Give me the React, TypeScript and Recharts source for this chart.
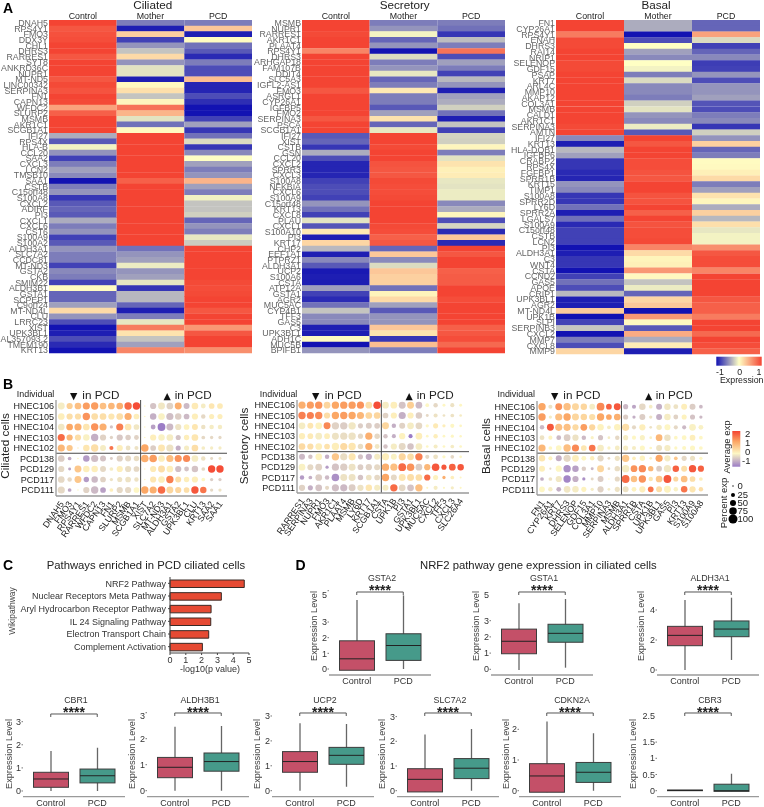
import {
  Bar,
  BarChart,
  Cell,
  ComposedChart,
  ReferenceLine,
  Scatter,
  ScatterChart,
  XAxis,
  YAxis,
  ZAxis,
} from 'recharts'

const SANS = '"Liberation Sans", Arial, sans-serif'

const conditions = ['Control', 'Mother', 'PCD']
const individuals = ['HNEC106', 'HNEC105', 'HNEC104', 'HNEC103', 'HNEC102', 'PCD138', 'PCD129', 'PCD117', 'PCD111']

// Panel A - scaled expression, one [control, mother, pcd] row per gene
const ciliatedGenes = ['DNAH5', 'RPS4Y1', 'FMO3', 'DDX3Y', 'CHL1', 'DHRS3', 'RARRES1', 'SYT8', 'ANKRD36C', 'NUPR1', 'MT-ND5', 'LINC00342', 'SERPINA3', 'FN1', 'CAPN13', 'WFDC2', 'SLURP2', 'MSMB', 'AKR1C1', 'SCGB1A1', 'IFI27', 'RPS4X', 'HLA-B', 'CCL20', 'SAA2', 'CXCL3', 'LCN2', 'TMSB10', 'SAA1', 'CSTB', 'C15orf48', 'S100A8', 'CXCL2', 'ADIRF', 'PI3', 'CXCL1', 'CXCL6', 'CST6', 'S100A9', 'S100A2', 'ALDH3A1', 'SLC7A2', 'CCDC81', 'MT-ND3', 'GSTA2', 'CKB', 'SMIM22', 'ALDH3B1', 'GSTA1', 'SCPEP1', 'C9orf24', 'MT-ND4L', 'CLU', 'LRRC23', 'XIST', 'UPK3BL1', 'AL357093.2', 'TMEM190', 'KRT13']
const ciliatedZ = [
  [1, -0.55, -0.55], [0.9, -0.95, 0.3], [0.93, 0.25, -0.95], [0.95, -0.8, 0.02], [1, -0.45, -0.6], [1, -0.25, -0.7], [0.9, 0.2, -0.9], [1, -0.45, -0.55], [1, -0.12, -0.75], [1, -0.12, -0.75],
  [0.9, -0.95, 0.35], [0.97, 0.03, -0.92], [0.92, 0.17, -0.92], [1, -0.25, -0.75], [0.97, 0.05, -0.88], [0.5, 0.75, -1], [0.85, 0.4, -1], [1, -0.12, -0.8], [1, -0.6, -0.4], [1, 0.03, -0.85],
  [-0.35, 1, -0.6], [-0.7, 1, -0.15], [-0.05, 1, -0.85], [-0.45, 1, -0.5], [-0.8, 1, 0], [-0.55, 1, -0.4], [-0.4, 1, -0.55], [-0.5, 1, -0.45], [-1, 0.85, 0.4], [-0.55, 1, -0.4],
  [-0.45, 1, -0.55], [-0.85, 1, -0.06], [-0.7, 1, -0.25], [-0.65, 1, -0.25], [-0.7, 1, -0.2], [-0.35, 1, -0.65], [-0.55, 1, -0.45], [-0.45, 1, -0.55], [-0.8, 1, -0.1], [-0.7, 1, -0.22],
  [-0.45, -0.6, 1], [-0.55, -0.45, 1], [-0.55, -0.4, 1], [-0.8, -0.08, 1], [-0.5, -0.45, 1], [-0.55, -0.4, 1], [-0.8, -0.1, 0.97], [0.02, -0.85, 0.95], [-0.65, -0.3, 0.97], [-0.65, -0.3, 1],
  [-0.4, -0.65, 1], [0.2, -0.95, 0.9], [-0.45, -0.55, 1], [-0.75, -0.1, 1], [-1, 0.7, 0.55], [-0.95, 0.15, 0.9], [-0.75, -0.25, 1], [-0.9, -0.4, 1], [-1, 0.65, 0.6],
]

const secretoryGenes = ['MSMB', 'NUPR1', 'RARRES1', 'AKR1C1', 'PLAAT4', 'RPS4Y1', 'DHRS3', 'ARHGAP18', 'FAM107B', 'DDIT4', 'SLC5A3', 'IGFL2-AS1', 'FMO3', 'ASRGL1', 'CYP26A1', 'IGFBP5', 'FMO2', 'SERPINA3', 'PSCA', 'SCGB1A1', 'IFI27', 'XIST', 'CSTB', 'GSN', 'CCL20', 'CXCL2', 'SPRR3', 'CXCL3', 'S100A8', 'NFKBIA', 'CXCL6', 'S100A9', 'C15orf48', 'KRT13', 'CXCL8', 'PLAU', 'CXCL1', 'S100A10', 'PI3', 'KRT17', 'CHP2', 'EEF1A1', 'PTPRZ1', 'ALDH3A1', 'UCP2', 'S100A6', 'CSTA', 'ATP12A', 'GSTA1', 'AGR2', 'MUC5AC', 'CYP4B1', 'TFF3', 'GAS5', 'C3', 'UPK3BL1', 'ADH1C', 'MUC5B', 'BPIFB1']
const secretoryZ = [
  [1, -0.55, -0.55], [1, -0.45, -0.6], [0.97, -0.05, -0.85], [1, -0.65, -0.28], [1, -0.45, -0.55], [0.65, -1, 0.75], [1, -0.15, -0.75], [1, -0.55, -0.4], [1, -0.45, -0.55], [1, -0.1, -0.8],
  [1, -0.65, -0.3], [1, -0.55, -0.45], [0.9, 0.12, -0.95], [1, -0.55, -0.4], [1, -0.55, -0.35], [1, -0.7, -0.2], [1, -0.4, -0.6], [0.9, 0.15, -0.95], [1, -0.65, -0.25], [1, -0.1, -0.8],
  [-0.7, 1, -0.18], [-0.65, 1, -0.2], [-0.85, 0.97, 0.05], [-0.35, 1, -0.55], [-0.75, 1, -0.12], [-0.92, 0.92, 0.15], [-0.92, 0.9, 0.08], [-0.92, 0.9, 0.1], [-0.8, 0.97, -0.1], [-0.75, 0.95, -0.12],
  [-0.75, 0.95, -0.08], [-0.8, 0.97, -0.08], [-0.45, 1, -0.5], [-0.6, 1, -0.35], [-0.8, 1, 0.05], [-0.12, 1, -0.75], [-0.72, 0.97, -0.18], [0.12, 0.95, -0.9], [-0.95, 0.85, 0.3], [0.22, 0.9, -0.9],
  [-0.3, -0.65, 1], [-0.95, 0.3, 0.9], [-0.5, -0.5, 1], [-0.7, -0.15, 1], [-0.97, 0.3, 0.85], [-0.95, 0.25, 0.87], [-0.95, 0.25, 0.87], [-0.4, -0.6, 1], [-0.8, 0.06, 1], [-0.9, 0.2, 0.95],
  [-0.6, -0.4, 1], [-0.25, -0.7, 1], [-0.5, -0.45, 1], [-0.5, -0.45, 1], [-0.95, 0.3, 0.85], [-0.95, 0.15, 0.9], [0.02, -0.85, 0.95], [-1, 0.35, 0.8], [-0.45, -0.55, 1],
]

const basalGenes = ['FN1', 'CYP26A1', 'RPS4Y1', 'ENAH', 'DHRS3', 'RAI14', 'NRIP1', 'SELENOP', 'GDF15', 'PSAP', 'KRT7', 'ARL4C', 'MMP10', 'AKAP12', 'COL3A1', 'MSMB', 'CALD1', 'AKR1C1', 'SERPINA3', 'AMTN', 'IFI27', 'KRT13', 'HLA-DQB1', 'IGFBP6', 'CRABP2', 'RPS4X', 'FGFBP1', 'SPRR1B', 'KRT15', 'TIMP1', 'S100A8', 'SPRR2D', 'LY6D', 'SPRR2A', 'LGALS7', 'S100A9', 'C15orf48', 'CSTB', 'LCN2', 'PI3', 'ALDH3A1', 'C3', 'WNT4', 'CSTA', 'CCND2', 'GAS5', 'APOE', 'CRIP1', 'UPK3BL1', 'AGR2', 'MT-ND4L', 'UPK1B', 'SLPI', 'SERPINB3', 'CXCL2', 'MMP7', 'CXCL8', 'MMP9']
const basalZ = [
  [1, -0.35, -0.65], [1, -0.35, -0.65], [0.7, -1, 0.5], [0.97, -0.75, -0.15], [0.97, 0, -0.8], [1, -0.4, -0.65], [1, -0.5, -0.5], [0.97, 0, -0.82], [0.97, -0.05, -0.8], [1, -0.55, -0.45],
  [1, -0.15, -0.75], [1, -0.5, -0.45], [1, -0.5, -0.45], [1, -0.55, -0.4], [1, -0.2, -0.72], [1, -0.12, -0.75], [1, -0.45, -0.55], [1, -0.5, -0.5], [0.97, -0.08, -0.85], [1, -0.7, -0.2],
  [-0.5, 1, -0.45], [-0.95, 0.9, 0.25], [-0.3, 1, -0.65], [-0.4, 1, -0.55], [-0.85, 0.95, 0.02], [-0.85, 0.95, 0.03], [-0.9, 0.92, 0.08], [-0.92, 0.9, 0.2], [-0.45, 1, -0.55], [-0.5, 1, -0.4],
  [-0.85, 0.92, 0.15], [-0.85, 0.92, 0.05], [-0.6, 1, -0.35], [-0.95, 0.85, 0.25], [-0.6, 1, -0.3], [-0.9, 0.92, 0.17], [-0.8, 0.95, -0.1], [-0.8, 0.95, -0.05], [-0.8, 0.97, -0.05], [-1, 0.65, 0.6],
  [-0.95, 0.2, 0.9], [-0.85, 0.06, 0.95], [-0.85, 0.08, 0.95], [-1, 0.55, 0.65], [-0.8, 0.03, 1], [-0.6, -0.25, 1], [-0.75, -0.08, 1], [-0.3, -0.65, 1], [-0.95, 0.22, 0.9], [-0.95, 0.3, 0.85],
  [0.28, -1, 0.85], [-1, 0.55, 0.7], [-0.8, 0.03, 1], [-0.25, -0.7, 1], [-1, 0.45, 0.8], [-0.55, -0.35, 1], [-0.75, 0.1, 0.95], [0.22, -0.95, 0.85],
]

// Panel B - average expression and percent expressed, one row per individual
const ciliatedDotGenes = ['DNAH5', 'FMO3', 'RPS4Y1', 'RARRES1', 'WFDC2', 'CAPN13', 'FN1', 'SLURP2', 'MSMB', 'SCGB1A1', 'XIST', 'SLC7A2', 'MT-ND3', 'ALDH3A1', 'GSTA2', 'UPK3BL1', 'CLU', 'KRT13', 'SAA2', 'SAA1']
const ciliatedAvg = [
  [-0.1, 0.5, 0.7, 1.1, 1.1, 0.7, 0.8, 0.9, 1.6, 1.9, 0, -0.5, -0.15, -0.35, 0.9, -0.6, 0.15, -0.1, 0.2, 0.15],
  [0.1, 0.3, 0.3, 1.2, 0.3, 0.3, 0.2, 0.3, 0.9, 0.1, 0, -0.7, -0.05, -0.55, -0.4, -0.6, 0.1, -0.3, 0.1, 0.1],
  [-0.15, 1, 0.9, 0.2, 1.2, 0.9, -0.5, 1.4, 0.2, -0.15, 0, -0.85, -1.2, -0.6, -0.2, 0.05, 0.2, -0.2, -0.1, -0.1],
  [1.6, 0.8, 0.3, -0.05, -0.7, -0.35, -0.35, -0.45, -0.4, -0.35, 0, 0.1, -0.05, -0.1, -0.5, 0.1, 0.2, -0.3, -0.3, -0.3],
  [0.8, 0.6, 0.1, 0.2, 0.3, -0.1, 1.5, 0.1, -0.2, -0.2, 1, -0.4, 0.2, -0.2, -0.7, -0.1, 0.3, -0.1, -0.1, -0.1],
  [-0.4, -0.75, 0.05, -0.9, -0.55, -0.5, -0.4, -0.35, -0.3, -0.25, 0.9, 1.1, 0.1, 0.7, 1.2, 1.3, -0.1, -0.2, -0.3, -0.2],
  [-0.3, -0.8, 0.6, 0.1, 0.1, -0.3, -0.1, 0.1, -0.25, -0.3, 0, 0.15, 0.3, 0.1, -0.55, -0.5, -0.5, -0.3, 1.9, 1.9],
  [-0.3, -0.3, 0.6, -0.9, -0.6, -0.35, -0.2, -0.2, -0.2, -0.2, 0, 0.2, 0.1, 1.4, 0.3, 0.1, 0.1, 0, -0.4, -0.4],
  [-0.3, -0.8, 0, -0.35, -0.6, -0.85, 0.1, -0.3, -0.3, 0, 1, 0.9, 1.6, 0.4, 0.4, 0.3, 1.8, 1.5, -0.3, -0.2],
]
const ciliatedPct = [
  [75, 60, 70, 80, 85, 70, 70, 70, 85, 85, 2, 60, 75, 70, 75, 55, 70, 35, 50, 50],
  [70, 60, 60, 85, 70, 70, 60, 70, 80, 50, 2, 65, 70, 80, 65, 50, 60, 30, 40, 40],
  [70, 70, 80, 70, 85, 80, 15, 80, 70, 50, 2, 35, 95, 75, 60, 50, 55, 30, 30, 30],
  [80, 60, 60, 65, 85, 60, 15, 60, 45, 35, 2, 60, 65, 70, 40, 45, 70, 20, 15, 15],
  [80, 60, 2, 65, 85, 55, 25, 60, 35, 25, 90, 50, 75, 80, 40, 40, 70, 20, 15, 15],
  [70, 20, 2, 65, 80, 55, 12, 60, 55, 45, 90, 90, 70, 80, 80, 80, 70, 30, 12, 12],
  [60, 12, 75, 65, 65, 55, 20, 60, 60, 50, 2, 60, 75, 70, 60, 35, 65, 20, 85, 85],
  [70, 30, 75, 45, 65, 50, 15, 40, 50, 30, 2, 60, 70, 85, 55, 45, 60, 20, 15, 15],
  [80, 20, 2, 60, 85, 50, 20, 60, 60, 50, 85, 80, 90, 75, 60, 50, 85, 65, 15, 15],
]

const secretoryDotGenes = ['RARRES1', 'SERPINA3', 'NUPR1', 'FMO3', 'AKR1C1', 'PLAAT4', 'MSMB', 'LY6D', 'KRT17', 'SCGB1A1', 'CSTA', 'UPK1B', 'PI3', 'GSTA1', 'UPK3BL1', 'MUC5AC', 'CXCL2', 'TFF3', 'CXCL3', 'SLC26A4']
const secretoryAvg = [
  [0.9, 1.1, 1.2, 0.4, 1, 1.1, 1.1, 1.2, 0.3, 1.9, -0.1, 0.1, -0.5, 0.5, -0.6, 0, -0.3, 0, -0.2, 0],
  [1.4, 1.4, 1.3, 0.3, 1, 1.1, 1, 0.8, 0.4, 0.4, -0.35, 0.1, -0.7, 0.1, -0.4, -0.3, -0.2, -0.2, -0.2, -0.1],
  [-0.1, 0.2, 0.05, 1.3, -0.35, -0.4, -0.15, -0.4, -0.4, -0.4, 0.4, -0.7, -0.35, -0.1, -0.3, 0, 0.15, 0.1, 0, 0],
  [0.1, 0.15, -0.1, 0.1, -0.2, -0.25, -0.2, -0.3, 0.9, -0.3, -0.5, -0.7, 0.05, -1.2, 0.1, 0, 0.1, 0, 0, 0],
  [0.35, 0.3, 0.1, 0.25, 0.1, 0.35, 0.2, -0.25, 0.9, -0.15, -0.5, -0.1, -0.3, -0.5, -0.1, 0, -0.1, 0, -0.1, 0],
  [-0.6, -0.5, 0.05, -0.7, 0.6, -0.25, 0.2, -0.5, -0.7, -0.1, 0.1, -0.05, 0.4, 0.3, 1.4, -0.3, -0.2, 0, -0.3, 0],
  [-0.05, -0.3, -0.35, -0.9, -0.5, -0.4, -0.2, -0.4, -0.35, -0.3, 0.9, 0.7, 1.6, 1.2, -0.4, 0.8, 1.8, 1.8, 1.7, 1.8],
  [-0.9, -0.7, -0.4, -0.6, -1, -0.2, -0.2, -0.5, -0.2, -0.3, 1, -0.3, 0.2, 0.3, 0.3, 1.6, 0.05, 0.9, 0.1, 0],
  [-0.35, -0.7, -0.5, -0.3, -0.55, -0.6, -0.4, -0.2, 0.2, -0.1, -0.1, 1.6, -0.3, -0.5, 0.7, 0, -0.1, 0, -0.1, 0],
]
const secretoryPct = [
  [80, 80, 85, 70, 85, 85, 85, 80, 70, 90, 70, 70, 75, 75, 70, 20, 30, 12, 25, 12],
  [85, 80, 85, 60, 85, 85, 85, 80, 70, 70, 50, 60, 80, 60, 65, 12, 25, 10, 20, 10],
  [70, 55, 70, 75, 85, 85, 85, 40, 55, 50, 75, 30, 55, 70, 70, 15, 40, 15, 25, 10],
  [60, 50, 70, 50, 75, 80, 85, 40, 80, 45, 30, 25, 60, 25, 70, 10, 30, 10, 15, 8],
  [70, 60, 70, 50, 85, 80, 85, 45, 80, 35, 30, 60, 75, 65, 70, 10, 25, 10, 20, 10],
  [55, 30, 70, 30, 85, 80, 80, 40, 60, 55, 80, 55, 80, 70, 85, 25, 35, 15, 20, 10],
  [70, 55, 70, 15, 80, 80, 75, 50, 60, 55, 85, 80, 95, 90, 70, 60, 90, 40, 70, 65],
  [30, 20, 70, 30, 90, 75, 75, 45, 50, 50, 85, 55, 75, 75, 70, 60, 40, 15, 20, 5],
  [60, 40, 70, 25, 80, 80, 75, 60, 65, 55, 55, 85, 70, 70, 85, 5, 25, 5, 15, 5],
]

const basalDotGenes = ['FN1', 'CYP26A1', 'KRT7', 'DHRS3', 'SELENOP', 'GDF15', 'COL3A1', 'MMP10', 'SERPINA3', 'MSMB', 'ALDH3A1', 'SPRR1B', 'CSTA', 'UPK1B', 'UPK3BL1', 'GAS5', 'PI3', 'KRT13', 'S100A9', 'S100A8']
const basalAvg = [
  [1, -0.2, 1.2, 0.7, 0.4, 0.4, -0.1, 1.3, 1.7, 1.8, -0.6, -0.8, -0.3, -0.1, -0.7, -0.15, -0.2, 0.1, -0.4, -0.6],
  [1.1, -0.1, 0.7, 1, 0.4, 0.4, 0.3, 1, 1, 0.9, -0.4, -0.7, -0.4, -0.2, -0.7, -0.1, -0.35, 0.05, -0.5, -0.6],
  [-0.6, 1.8, 0.7, 0.7, 0.35, 1.1, 0.4, 0.05, -0.1, 0.05, 0.3, -0.3, 0.1, -0.2, -0.1, 0, -0.3, -0.6, -0.05, -0.05],
  [-0.2, 0.05, -0.6, -0.4, -0.2, -0.6, -0.05, -0.5, -0.1, -0.3, -0.1, 0, -0.05, -0.05, 0.8, -0.2, 0, 0, 0.1, 0],
  [0.8, 0, 0, 0.7, 1.3, 0.2, 1.5, -0.1, -0.05, -0.1, -0.1, -0.1, 0, 0, -0.2, -0.1, 0, 0, 0, 0],
  [0.2, 0.05, -0.7, -0.3, 0.1, 0, 0.1, -0.3, -0.3, -0.2, 0.6, 0.1, 0.05, -0.05, 1, -0.1, 0.6, -0.3, -0.2, 0],
  [0.1, -0.3, 0, -1, -0.85, -0.4, -0.6, 0.4, -0.3, -0.25, -0.1, 1.2, 1.3, 0.8, -0.4, -0.15, 1.7, 0.3, 1.8, 1.7],
  [-0.7, -0.2, -0.15, -1.1, -0.7, -1, -0.3, -0.4, 0, -0.3, 1.6, 0.7, 1.2, 0.2, 0.6, 1.8, 0.4, 0.7, 0.3, 0.1],
  [0, -0.1, -0.7, -0.15, -0.1, 0.05, -0.1, -0.35, -0.1, -0.2, -0.2, 0.05, 0.1, 1.5, 0.3, 0.05, -0.05, 1.5, 0.2, 0.3],
]
const basalPct = [
  [85, 25, 75, 85, 75, 65, 50, 95, 50, 75, 40, 25, 65, 20, 55, 65, 35, 55, 55, 20],
  [85, 15, 80, 85, 75, 65, 60, 85, 50, 70, 40, 15, 55, 15, 55, 65, 35, 40, 40, 15],
  [30, 75, 80, 80, 60, 70, 60, 65, 20, 65, 80, 25, 60, 10, 45, 55, 25, 25, 70, 35],
  [35, 25, 35, 70, 60, 30, 15, 40, 10, 30, 40, 25, 40, 10, 70, 65, 20, 35, 50, 20],
  [80, 20, 50, 85, 80, 50, 70, 70, 15, 35, 40, 25, 40, 10, 55, 60, 15, 25, 40, 20],
  [65, 25, 55, 80, 70, 35, 30, 60, 10, 40, 85, 20, 45, 10, 80, 60, 20, 40, 40, 15],
  [55, 5, 60, 85, 65, 30, 12, 75, 10, 45, 85, 70, 85, 45, 50, 80, 65, 55, 85, 60],
  [20, 20, 60, 85, 60, 15, 12, 55, 2, 40, 95, 65, 85, 30, 70, 95, 40, 70, 50, 20],
  [50, 30, 35, 70, 65, 40, 15, 60, 10, 40, 55, 35, 60, 50, 55, 75, 30, 65, 60, 30],
]

// Panel C
const pathwayNames = ['NRF2 Pathway', 'Nuclear Receptors Meta Pathway', 'Aryl Hydrocarbon Receptor Pathway', 'IL 24 Signaling Pathway', 'Electron Transport Chain', 'Complement Activation']
const pathwayValues = [4.7, 3.25, 2.6, 2.58, 2.45, 2.05]

// Panel D - [min, q1, median, q3, max]
const gsta2Control = [0, -0.08, 0.65, 1.8, 4.4]
const gsta2Pcd = [0, 0.55, 1.5, 2.25, 4.7]
const gsta1Control = [-0.05, 0.96, 1.73, 2.48, 4.07]
const gsta1Pcd = [0.1, 1.67, 2.22, 2.78, 4.34]
const aldh3a1Control = [0, 1.62, 2.31, 2.91, 4.67]
const aldh3a1Pcd = [0.67, 2.22, 2.73, 3.27, 4.82]
const cbr1Control = [0, 0.16, 0.52, 0.81, 1.73]
const cbr1Pcd = [0, 0.35, 0.66, 0.95, 1.87]
const aldh3b1Control = [0, 0.5, 0.9, 1.28, 2.46]
const aldh3b1Pcd = [0, 0.75, 1.12, 1.45, 2.49]
const ucp2Control = [0, 0.74, 1.17, 1.57, 2.71]
const ucp2Pcd = [0.16, 1.06, 1.42, 1.74, 2.68]
const slc7a2Control = [-0.05, -0.05, 0.46, 0.89, 2.28]
const slc7a2Pcd = [0, 0.49, 0.91, 1.3, 2.5]
const cdkn2aControl = [-0.05, -0.05, 0.48, 0.88, 2.25]
const cdkn2aPcd = [0, 0.27, 0.6, 0.92, 1.87]
const cbr3Control = [0, 0, 0.01, 0.02, 0.02]
const cbr3Pcd = [-0.02, -0.02, 0, 0.2, 0.52]

const mix = (a: string, b: string, t: number) => {
  const c = (s: string, i: number) => parseInt(s.slice(i, i + 2), 16)
  const ch = (i: number) => Math.round(c(a, i) + (c(b, i) - c(a, i)) * t)
  return `rgb(${ch(1)},${ch(3)},${ch(5)})`
}

const heatColor = (z: number) =>
  z < 0 ? mix('#ffffc4', '#1212b2', -z) : mix('#ffffc4', '#f44433', z)

const dotColor = (v: number) => {
  if (v < 0) return mix('#fdf6c4', '#9b7cc6', Math.min(-v / 1.2, 1))
  if (v < 1) return mix('#fdf6c4', '#fba765', v)
  return mix('#fba765', '#f44332', Math.min(v - 1, 1))
}

// own layer keeps the small gray labels from getting coloured LCD fringes
const layer = { position: 'absolute', willChange: 'transform' } as const

// plain text ticks, Recharts would otherwise wrap the long names
const RightTick = ({ x, y, payload, size = 8.8, fill = '#8c8c8c' }: any) => (
  <text x={x} y={y + size * 0.36} textAnchor="end" fontSize={size} fill={fill} fontFamily={SANS}>
    {payload.value}
  </text>
)

function Heatmap({ left, width, axisWidth, height, genes, z }: { left: number; width: number; axisWidth: number; height: number; genes: string[]; z: number[][] }) {
  const rows = genes.map((gene) => ({ gene, control: 1, mother: 1, pcd: 1 }))
  return (
    <div style={{ ...layer, left, top: 8 }}>
      <BarChart width={width} height={height + 5} data={rows} layout="vertical" barCategoryGap={0} margin={{ top: 0, right: 0, bottom: 5, left: 0 }}>
        <XAxis
          type="number"
          orientation="top"
          domain={[0, 3]}
          ticks={[0.5, 1.5, 2.5]}
          tickFormatter={(v) => conditions[Math.floor(v)]}
          height={12}
          axisLine={false}
          tickLine={false}
          tickSize={0}
          tickMargin={1.5}
          tick={{ fontSize: 8.8, fill: '#222', fontFamily: SANS }}
        />
        <YAxis
          type="category"
          dataKey="gene"
          width={axisWidth}
          interval={0}
          axisLine={false}
          tickLine={false}
          tickSize={0}
          tickMargin={1}
          tick={(p: any) => <RightTick {...p} />}
        />
        {['control', 'mother', 'pcd'].map((key, col) => (
          <Bar key={key} dataKey={key} stackId="a" isAnimationActive={false}>
            {rows.map((r, i) => (
              <Cell key={r.gene + i} fill={heatColor(z[i][col])} />
            ))}
          </Bar>
        ))}
      </BarChart>
    </div>
  )
}

const GeneTick = ({ x, y, payload, names }: any) => (
  <text
    transform={`translate(${x + 3},${y + 6}) rotate(-55)`}
    textAnchor="end"
    fontSize={8.8}
    fill="#222"
    fontFamily={SANS}
  >
    {names[payload.value]}
  </text>
)

function DotPlot({ left, top, axisWidth, plotW, plotH, xDomain, yDomain, genes, avg, pct }: any) {
  const points = avg.flatMap((row: number[], r: number) =>
    row.map((v, c) => ({ col: c, row: r, avg: v, pct: pct[r][c] }))
  )
  return (
    <div style={{ ...layer, left, top }}>
      <ScatterChart width={axisWidth + plotW + 8} height={plotH + 52} margin={{ top: 0, right: 8, bottom: 0, left: 0 }}>
        <XAxis
          type="number"
          dataKey="col"
          domain={xDomain}
          ticks={genes.map((_: string, i: number) => i)}
          interval={0}
          height={52}
          allowDataOverflow
          stroke="#9a9a9a"
          strokeWidth={1.3}
          tickLine={false}
          tickSize={0}
          tick={(p: any) => <GeneTick {...p} names={genes} />}
        />
        <YAxis
          type="number"
          dataKey="row"
          reversed
          domain={yDomain}
          ticks={individuals.map((_, i) => i)}
          interval={0}
          width={axisWidth}
          allowDataOverflow
          stroke="#9a9a9a"
          strokeWidth={1.3}
          tickLine={false}
          tickSize={0}
          tickMargin={2}
          tickFormatter={(v) => individuals[v]}
          tick={{ fontSize: 9, fill: '#222', fontFamily: SANS }}
        />
        <ZAxis type="number" dataKey="pct" domain={[0, 100]} range={[1, 50]} />
        <Scatter data={points} isAnimationActive={false}>
          {points.map((p: any, i: number) => (
            <Cell key={i} fill={dotColor(p.avg)} />
          ))}
        </Scatter>
        <ReferenceLine x={9.5} stroke="#4a4a4a" strokeWidth={1} />
        <ReferenceLine y={4.5} stroke="#4a4a4a" strokeWidth={1} />
      </ScatterChart>
    </div>
  )
}

const BoxShape = ({ x, y, width, height, payload }: any) => {
  const [lo, q1, med, q3, hi] = payload.stats
  const perUnit = Math.abs(height) / (q3 - q1)
  const top = Math.min(y, y + height)
  const bottom = top + Math.abs(height)
  const cx = x + width / 2
  return (
    <g>
      <line x1={cx} x2={cx} y1={top - (hi - q3) * perUnit} y2={bottom + (q1 - lo) * perUnit} stroke="#666" strokeWidth={1.3} />
      <rect x={x} y={top} width={width} height={Math.abs(height)} fill={payload.fill} stroke="#3c3c3c" strokeWidth={1} />
      <line x1={x} x2={x + width} y1={top + (q3 - med) * perUnit} y2={top + (q3 - med) * perUnit} stroke="#222" strokeWidth={1} />
    </g>
  )
}

function BoxPanel({ left, plotTop, axisY, zeroY, unit, ticks, control, pcd }: any) {
  const rows = [
    { group: 'Control', stats: control, range: [control[1], control[3]], fill: '#c45068' },
    { group: 'PCD', stats: pcd, range: [pcd[1], pcd[3]], fill: '#469a8a' },
  ]
  const yMax = (zeroY - plotTop) / unit
  const yMin = (zeroY - axisY) / unit
  const bracket = (zeroY - (plotTop + 2)) / unit
  const drop = bracket - 3 / unit
  return (
    <div style={{ ...layer, left: left - 18, top: plotTop }}>
      <ComposedChart width={120} height={axisY - plotTop + 18} data={rows} margin={{ top: 0, right: 0, bottom: 0, left: 0 }}>
        <XAxis
          dataKey="group"
          height={18}
          padding={{ left: 4.5, right: 4.5 }}
          stroke="#9a9a9a"
          strokeWidth={1.3}
          tickLine={false}
          tickSize={0}
          tickMargin={3}
          tick={{ fontSize: 9, fill: '#333', fontFamily: SANS }}
        />
        <YAxis
          type="number"
          width={18}
          domain={[yMin, yMax]}
          ticks={ticks}
          allowDataOverflow
          axisLine={false}
          tickSize={1.5}
          tickMargin={0.5}
          stroke="#777"
          tick={{ fontSize: 9, fill: '#333', fontFamily: SANS }}
        />
        <Bar dataKey="range" barSize={35} shape={BoxShape} isAnimationActive={false} />
        <ReferenceLine segment={[{ x: 'Control', y: bracket }, { x: 'PCD', y: bracket }]} stroke="#555" ifOverflow="visible" />
        <ReferenceLine segment={[{ x: 'Control', y: bracket }, { x: 'Control', y: drop }]} stroke="#555" ifOverflow="visible" />
        <ReferenceLine segment={[{ x: 'PCD', y: bracket }, { x: 'PCD', y: drop }]} stroke="#555" ifOverflow="visible" />
      </ComposedChart>
    </div>
  )
}

const T = ({ x, y, s, size = 9, anchor = 'start', fill = '#222', weight, rot, font }: any) => (
  <text
    transform={rot ? `translate(${x},${y}) rotate(${rot})` : undefined}
    x={rot ? undefined : x}
    y={rot ? undefined : y}
    fontSize={size}
    textAnchor={anchor}
    fill={fill}
    fontWeight={weight}
    fontFamily={font || SANS}
  >
    {s}
  </text>
)

const boxTitles = [
  { s: 'GSTA2', mid: 380, top: true },
  { s: 'GSTA1', mid: 542, top: true },
  { s: 'ALDH3A1', mid: 708, top: true },
  { s: 'CBR1', mid: 74, top: false },
  { s: 'ALDH3B1', mid: 198, top: false },
  { s: 'UCP2', mid: 323, top: false },
  { s: 'SLC7A2', mid: 448, top: false },
  { s: 'CDKN2A', mid: 570, top: false },
  { s: 'CBR3', mid: 708, top: false },
]
const exprLabels = [
  [314, 626], [476, 626], [641, 626], [8.5, 754], [132, 754], [257, 754], [382, 754], [506, 754], [633, 754],
]
const pctLegend = [0, 25, 50, 75, 100]
const pctLegendY = [486, 495, 503, 511, 519]
const pctLegendR = [0.7, 2, 3, 3.8, 4.5]

export default function App() {
  return (
    <div style={{ position: 'absolute', left: 0, top: 0, width: 764, height: 807, background: '#fff', overflow: 'hidden' }}>
      <Heatmap left={0} width={252} axisWidth={49} height={345} genes={ciliatedGenes} z={ciliatedZ} />
      <Heatmap left={250} width={255} axisWidth={52} height={345} genes={secretoryGenes} z={secretoryZ} />
      <Heatmap left={505} width={255} axisWidth={51} height={346} genes={basalGenes} z={basalZ} />

      <DotPlot left={0} top={400} axisWidth={56} plotW={171} plotH={96} xDomain={[-0.63, 19.84]} yDomain={[-0.57, 8.57]} genes={ciliatedDotGenes} avg={ciliatedAvg} pct={ciliatedPct} />
      <DotPlot left={240} top={400} axisWidth={57} plotW={172} plotH={93} xDomain={[-0.6, 20]} yDomain={[-0.5, 8.5]} genes={secretoryDotGenes} avg={secretoryAvg} pct={secretoryPct} />
      <DotPlot left={480} top={401} axisWidth={57} plotW={171} plotH={94} xDomain={[-0.6, 19.85]} yDomain={[-0.55, 8.55]} genes={basalDotGenes} avg={basalAvg} pct={basalPct} />

      <div style={{ ...layer, left: 0, top: 577 }}>
        <BarChart
          width={256}
          height={92}
          data={pathwayNames.map((name, i) => ({ name, value: pathwayValues[i] }))}
          layout="vertical"
          margin={{ top: 0, right: 7, bottom: 0, left: 0 }}
        >
          <XAxis
            type="number"
            domain={[0, 5]}
            ticks={[0, 1, 2, 3, 4, 5]}
            height={16}
            stroke="#444"
            tickSize={2}
            tickMargin={2}
            tick={{ fontSize: 9, fill: '#333', fontFamily: SANS }}
          />
          <YAxis
            type="category"
            dataKey="name"
            width={170}
            interval={0}
            stroke="#444"
            tickSize={2}
            tickMargin={2}
            tick={(p: any) => <RightTick {...p} size={9} fill="#333" />}
          />
          <Bar dataKey="value" barSize={7.5} fill="#e64a33" stroke="#3a2a25" strokeWidth={1} isAnimationActive={false} />
        </BarChart>
      </div>

      <BoxPanel left={329} plotTop={590} axisY={675} zeroY={669} unit={15.66} ticks={[0, 1, 2, 3, 4, 5]} control={gsta2Control} pcd={gsta2Pcd} />
      <BoxPanel left={491} plotTop={590} axisY={675} zeroY={669.3} unit={16.2} ticks={[0, 1, 2, 3, 4, 5]} control={gsta1Control} pcd={gsta1Pcd} />
      <BoxPanel left={657} plotTop={590} axisY={675} zeroY={670} unit={15} ticks={[0, 2, 4]} control={aldh3a1Control} pcd={aldh3a1Pcd} />
      <BoxPanel left={23} plotTop={712} axisY={796.7} zeroY={791} unit={23.1} ticks={[0, 1, 2, 3]} control={cbr1Control} pcd={cbr1Pcd} />
      <BoxPanel left={147} plotTop={711} axisY={796.7} zeroY={790.7} unit={26} ticks={[0, 1, 2, 3]} control={aldh3b1Control} pcd={aldh3b1Pcd} />
      <BoxPanel left={272} plotTop={711} axisY={796.7} zeroY={790.7} unit={24.9} ticks={[0, 1, 2, 3]} control={ucp2Control} pcd={ucp2Pcd} />
      <BoxPanel left={397} plotTop={711} axisY={796.7} zeroY={790.7} unit={24.7} ticks={[0, 1, 2, 3]} control={slc7a2Control} pcd={slc7a2Pcd} />
      <BoxPanel left={519} plotTop={711} axisY={796.7} zeroY={790.7} unit={30.7} ticks={[0, 1, 2]} control={cdkn2aControl} pcd={cdkn2aPcd} />
      <BoxPanel left={657} plotTop={711} axisY={796.7} zeroY={790.7} unit={32.4} ticks={[0, 0.5, 1, 1.5, 2, 2.5]} control={cbr3Control} pcd={cbr3Pcd} />

      <svg width={764} height={807} style={{ ...layer, left: 0, top: 0, pointerEvents: 'none' }}>
        <defs>
          <linearGradient id="heatBar">
            <stop offset="0%" stopColor="#1212b2" />
            <stop offset="50%" stopColor="#ffffc4" />
            <stop offset="100%" stopColor="#f44433" />
          </linearGradient>
          <linearGradient id="dotBar" x1="0" y1="1" x2="0" y2="0">
            <stop offset="0%" stopColor="#9b7cc6" />
            <stop offset="37%" stopColor="#fdf6c4" />
            <stop offset="70%" stopColor="#fba765" />
            <stop offset="100%" stopColor="#f44332" />
          </linearGradient>
        </defs>

        <T x={3} y={12.5} s="A" size={14} weight="bold" fill="#000" />
        <T x={3} y={388.5} s="B" size={14} weight="bold" fill="#000" />
        <T x={3} y={570} s="C" size={14} weight="bold" fill="#000" />
        <T x={295.5} y={570} s="D" size={14} weight="bold" fill="#000" />

        <T x={152.7} y={8.5} s="Ciliated" size={11.7} anchor="middle" />
        <T x={404.7} y={8.5} s="Secretory" size={11.7} anchor="middle" />
        <T x={656} y={8.5} s="Basal" size={11.7} anchor="middle" />

        <rect x={716.3} y={356.7} width={45.4} height={9} fill="url(#heatBar)" />
        <T x={720} y={375} s="-1" size={8.8} anchor="middle" />
        <T x={739.7} y={375} s="0" size={8.8} anchor="middle" />
        <T x={759} y={375} s="1" size={8.8} anchor="middle" />
        <T x={720} y={383} s="Expression" size={8.8} />

        <T x={54.3} y={397} s="Individual" size={8.9} anchor="end" />
        <T x={297.3} y={397} s="Individual" size={8.9} anchor="end" />
        <T x={535} y={397} s="Individual" size={8.9} anchor="end" />
        <T x={70} y={398.5} s="▼" size={9.5} font="DejaVu Sans" fill="#111" />
        <T x={82.3} y={399} s="in PCD" size={11.7} />
        <T x={163.5} y={398.5} s="▲" size={9.5} font="DejaVu Sans" fill="#111" />
        <T x={174.7} y={399} s="in PCD" size={11.7} />
        <T x={312} y={398.5} s="▼" size={9.5} font="DejaVu Sans" fill="#111" />
        <T x={324.7} y={399} s="in PCD" size={11.7} />
        <T x={405.5} y={398.5} s="▲" size={9.5} font="DejaVu Sans" fill="#111" />
        <T x={416.7} y={399} s="in PCD" size={11.7} />
        <T x={551} y={398.5} s="▼" size={9.5} font="DejaVu Sans" fill="#111" />
        <T x={563.3} y={399} s="in PCD" size={11.7} />
        <T x={645} y={398.5} s="▲" size={9.5} font="DejaVu Sans" fill="#111" />
        <T x={655.7} y={399} s="in PCD" size={11.7} />

        <T x={9} y={446} s="Ciliated cells" size={11.7} anchor="middle" rot={-90} />
        <T x={248} y={446} s="Secretory cells" size={11.7} anchor="middle" rot={-90} />
        <T x={490} y={446} s="Basal cells" size={11.7} anchor="middle" rot={-90} />

        <T x={729.5} y={447} s="Average exp" size={9.5} anchor="middle" rot={-90} />
        <rect x={732.3} y={431} width={8} height={35.7} fill="url(#dotBar)" />
        <T x={745} y={437} s="2" size={9.5} />
        <T x={745} y={446} s="1" size={9.5} />
        <T x={745} y={455} s="0" size={9.5} />
        <T x={742} y={464} s="-1" size={9.5} />
        <T x={727} y={503} s="Percent exp" size={9.5} anchor="middle" rot={-90} />
        {pctLegend.map((p, i) => (
          <g key={p}>
            <circle cx={733} cy={pctLegendY[i]} r={pctLegendR[i]} fill="#000" />
            <T x={737.5} y={pctLegendY[i] + 3.3} s={p} size={9.5} />
          </g>
        ))}

        <T x={46.7} y={569} s="Pathways enriched in PCD ciliated cells" size={11.3} />
        <T x={420} y={569} s="NRF2 pathway gene expression in ciliated cells" size={11.3} />
        <T x={15} y={611} s="Wikipathway" size={8.5} anchor="middle" rot={-90} fill="#444" />
        <T x={210} y={672} s="-log10(p value)" size={9} anchor="middle" fill="#333" />

        {boxTitles.map((b) => (
          <g key={b.s}>
            <T x={b.mid + 2} y={b.top ? 581 : 703} s={b.s} size={8.8} anchor="middle" fill="#333" />
            <T x={b.mid} y={b.top ? 595 : 717} s="****" size={14} weight="bold" anchor="middle" fill="#222" />
          </g>
        ))}
        {exprLabels.map(([x, y], i) => (
          <T key={i} x={x + 3} y={y} s="Expression Level" size={9.2} anchor="middle" rot={-90} fill="#444" />
        ))}
      </svg>
    </div>
  )
}
